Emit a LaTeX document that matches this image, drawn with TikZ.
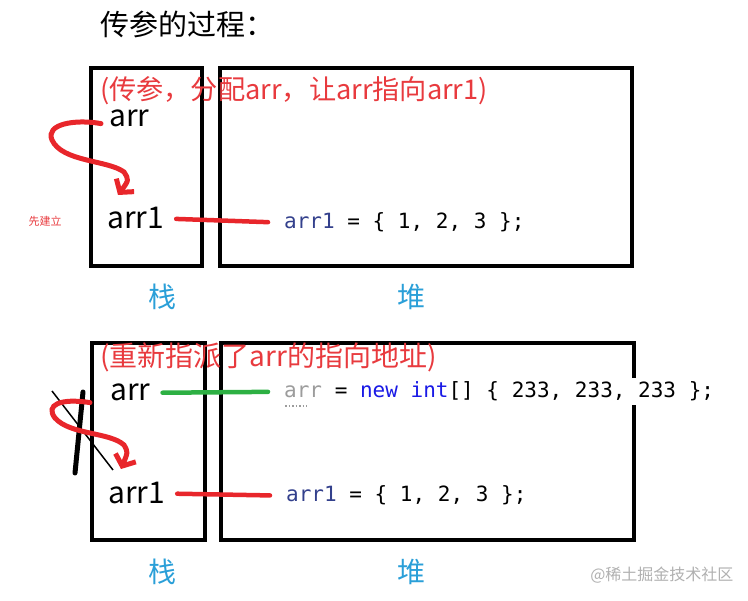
\documentclass[tikz,border=0pt]{standalone}
\usepackage{fontspec}
\setmainfont{Noto Sans CJK SC}
\newfontfamily\codefont{DejaVu Sans Mono}
\usetikzlibrary{arrows.meta,positioning}
\definecolor{pen}{HTML}{E8262B}
\definecolor{notered}{HTML}{E83A3E}
\definecolor{areablue}{HTML}{2A9FD8}
\definecolor{greenpen}{HTML}{2DB043}
\definecolor{varblue}{HTML}{33408C}
\definecolor{kwblue}{HTML}{1A1AE6}
\definecolor{fadevar}{HTML}{9C9C9C}
\definecolor{wmgray}{HTML}{B0B0B0}

\begin{document}
\begin{tikzpicture}[x=1pt,y=-1pt,
  frame/.style={draw,line width=4pt,inner sep=0pt},
  heading/.style={font=\fontsize{29}{34}\selectfont,anchor=base west,inner sep=0pt},
  note/.style={text=notered,font=\fontsize{28}{33}\selectfont,anchor=base west,inner sep=0pt},
  varname/.style={font=\fontsize{30}{36}\selectfont,anchor=base west,inner sep=0pt},
  codeline/.style={font=\codefont\fontsize{21}{25}\selectfont,anchor=base west,inner sep=0pt},
  place/.style={text=areablue,font=\fontsize{28}{33}\selectfont},
  redpen/.style={draw=pen,line width=5pt,line cap=round},
  penarrow/.style={redpen,-{Straight Barb[length=9pt,width=22pt,line width=5pt]}},
  link/.style={line width=4.5pt,line cap=round,shorten <=12pt,shorten >=16pt}]
\useasboundingbox (0,0) rectangle (748,601);
\node[heading] (title) at (100,36) {传参的过程：};

% first step
\node[frame,minimum width=111pt,minimum height=198pt] (stackA) at (146.5,167) {};
\node[frame,minimum width=412pt,minimum height=198pt] (heapA) at (425.75,167) {};
\node[note,font=\fontsize{27.2}{32}\selectfont] (noteA) at (100,100) {(传参，分配arr，让arr指向arr1)};
\node[varname] (arrA) at (109,127) {arr};
\node[varname] (arrOneA) at (107,229) {arr1};
\node[text=notered,font=\fontsize{11}{13}\selectfont] (firstA) at (45,221) {先建立};
\node[codeline] (codeA) at (284,229) {{\color{varblue}arr1} = \{ 1, 2, 3 \};};
\node[place] (stackTagA) at (162,297) {栈};
\node[place] (heapTagA) at (411,297) {堆};
\coordinate (tipA) at (118,195);
\draw[penarrow] ([shift={(-8,-4)}]arrA.south west) .. controls (75,119) and (45,124) .. (52,140)
  .. controls (62,162) and (108,160) .. (124,172) .. controls (129,180) .. (tipA);
\draw[link,draw=pen] (arrOneA.east) -- (codeA.west);

% second step
\node[frame,minimum width=113pt,minimum height=197pt] (stackB) at (148.5,441.5) {};
\node[frame,minimum width=413pt,minimum height=197pt] (heapB) at (427.5,441.5) {};
\node[note] (noteB) at (100,367) {(重新指派了arr的指向地址)};
\node[varname] (arrB) at (110,401) {arr};
\node[varname] (arrOneB) at (108,504) {arr1};
\node[codeline,fill=white,inner ysep=4pt] (codeB) at (284,398)
  {{\color{fadevar}arr} = {\color{kwblue}new int}[] \{ 233, 233, 233 \};};
\draw[fadevar,dotted,line width=1.5pt] ([shift={(1,8)}]codeB.base west) -- ++(22,0);
\node[codeline] (codeOneB) at (286,502) {{\color{varblue}arr1} = \{ 1, 2, 3 \};};
\node[place] (stackTagB) at (162,572) {栈};
\node[place] (heapTagB) at (411,572) {堆};
\draw[line width=1.5pt] (52,391) -- (113,470);
\draw[line width=5pt,line cap=round] (83,392) -- (75,473);
\coordinate (tipB) at (121,469);
\draw[penarrow] ([shift={(-20,1)}]arrB.south west) .. controls (60,398) and (45,405) .. (55,418)
  .. controls (70,435) and (110,432) .. (124,445) .. controls (128,452) .. (tipB);
\draw[link,draw=greenpen] (arrB.east) -- (codeB.west);
\draw[link,draw=pen] (arrOneB.east) -- (codeOneB.west);

\node[text=wmgray,font=\fontsize{16}{19}\selectfont,anchor=east] (mark) at (737,575) {@稀土掘金技术社区};
\end{tikzpicture}
\end{document}
